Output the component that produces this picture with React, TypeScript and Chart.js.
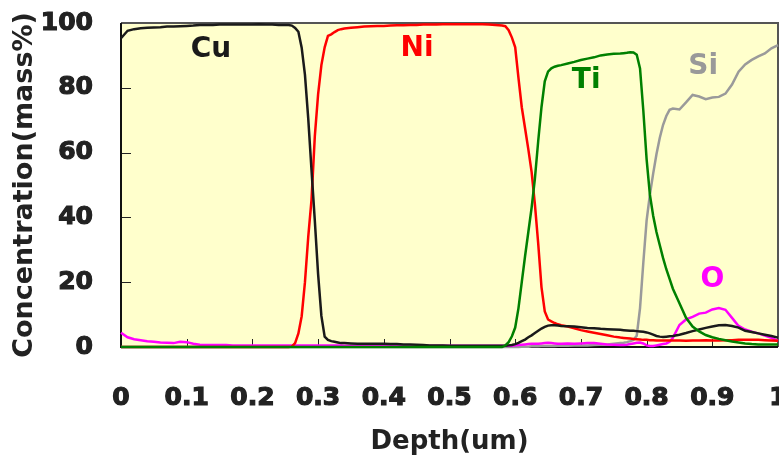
import React, { useEffect, useRef } from 'react';
import { Chart, registerables } from 'chart.js';

Chart.register(...registerables);

// Depth (um) sampling grid
const depth = [
  0, 0.01, 0.02, 0.03, 0.04, 0.05, 0.06, 0.07, 0.08, 0.09, 0.1, 0.11, 0.12, 0.13, 0.14, 0.15, 0.16, 0.17, 0.18, 0.19, 0.2, 0.21, 0.22, 0.23, 0.24, 0.25,
  0.255, 0.26, 0.265, 0.27, 0.275, 0.28, 0.285, 0.29, 0.295, 0.3, 0.305, 0.31, 0.315, 0.32, 0.325, 0.33, 0.335,
  0.34, 0.35, 0.36, 0.37, 0.38, 0.39, 0.4, 0.41, 0.42, 0.43, 0.44, 0.45, 0.46, 0.47, 0.48, 0.49, 0.5, 0.51, 0.52, 0.53, 0.54, 0.55, 0.56, 0.57, 0.58,
  0.585, 0.59, 0.595, 0.6, 0.605, 0.61, 0.615, 0.62, 0.625, 0.63, 0.635, 0.64, 0.645, 0.65, 0.655, 0.66, 0.665,
  0.67, 0.68, 0.69, 0.7, 0.71, 0.72, 0.73, 0.74, 0.75, 0.76,
  0.765, 0.77, 0.775, 0.78, 0.785, 0.79, 0.795, 0.8, 0.805, 0.81, 0.815, 0.82, 0.825, 0.83, 0.835,
  0.84, 0.85, 0.86, 0.87, 0.88, 0.89, 0.9, 0.91, 0.92, 0.93, 0.94, 0.95, 0.96, 0.97, 0.98, 0.99, 1.0,
];

const cu = [
  95.3, 97.6, 98.1, 98.4, 98.5, 98.6, 98.7, 98.9, 98.9, 99.0, 99.1, 99.2, 99.4, 99.4, 99.4, 99.5, 99.5, 99.5, 99.5, 99.5, 99.5, 99.6, 99.5, 99.5, 99.4, 99.4,
  99.4, 99.2, 98.5, 97.3, 92.4, 84, 70.5, 54.5, 39, 22.5, 9.6, 3.2, 2.2, 1.8, 1.6, 1.4, 1.2,
  1.2, 1.1, 1.0, 1.0, 1.0, 1.0, 1.0, 0.9, 0.9, 0.8, 0.8, 0.7, 0.6, 0.5, 0.5, 0.5, 0.4, 0.4, 0.4, 0.4, 0.4, 0.4, 0.4, 0.4, 0.4,
  0.4, 0.5, 0.6, 0.9, 1.3, 1.8, 2.3, 3.0, 3.6, 4.3, 5.0, 5.7, 6.2, 6.6, 6.7, 6.7, 6.6,
  6.5, 6.4, 6.3, 6.1, 5.9, 5.8, 5.6, 5.5, 5.4, 5.3,
  5.2, 5.1, 5.0, 5.0, 4.9, 4.8, 4.7, 4.5, 4.2, 3.8, 3.4, 3.2, 3.1, 3.2, 3.3,
  3.4, 3.8, 4.3, 4.9, 5.4, 5.9, 6.3, 6.7, 6.8, 6.5, 6.0, 5.0, 4.6, 4.2, 3.8, 3.4, 2.9,
];

const ni = [
  0, 0, 0, 0, 0, 0, 0, 0, 0, 0, 0, 0, 0, 0, 0, 0, 0, 0, 0, 0, 0, 0, 0, 0, 0, 0,
  0, 0.1, 1.2, 4.2, 9.5, 20, 34, 45.5, 65, 78, 87, 92.5, 96, 96.5, 97.2, 97.8, 98.1,
  98.3, 98.5, 98.7, 98.9, 99.0, 99.1, 99.1, 99.2, 99.3, 99.3, 99.4, 99.4, 99.5, 99.5, 99.5, 99.6, 99.6, 99.6, 99.6, 99.6, 99.6, 99.6, 99.5, 99.4, 99.2,
  99.0, 97.8, 95.5, 92.5, 83, 74, 67.5, 61, 54, 44, 32, 18.5, 11, 8.5, 7.9, 7.4, 7.0,
  6.7, 6.3, 5.8, 5.2, 4.8, 4.4, 4.0, 3.6, 3.2, 2.9,
  2.8, 2.7, 2.6, 2.5, 2.4, 2.3, 2.2, 2.2, 2.1, 2.1, 2.0, 2.0, 2.0, 2.0, 2.0,
  2.0, 2.0, 1.9, 2.0, 2.0, 2.1, 2.0, 2.0, 2.1, 2.1, 2.2, 2.2, 2.2, 2.2, 2.1, 2.0, 1.9,
];

const ti = [
  0, 0, 0, 0, 0, 0, 0, 0, 0, 0, 0, 0, 0, 0, 0, 0, 0, 0, 0, 0, 0, 0, 0, 0, 0, 0,
  0, 0, 0, 0, 0, 0, 0, 0, 0, 0, 0, 0, 0, 0, 0, 0, 0,
  0, 0, 0, 0, 0, 0, 0, 0, 0, 0, 0, 0, 0, 0, 0, 0, 0, 0, 0, 0, 0, 0, 0, 0, 0,
  0.5, 1.5, 3.3, 6.0, 12, 20, 28, 35.5, 43, 52, 63.5, 74, 82, 85, 86, 86.5, 86.8,
  87.0, 87.5, 88.0, 88.6, 89.0, 89.4, 90.0, 90.3, 90.5, 90.6,
  90.7, 90.8, 91.0, 90.9, 90.2, 86, 73, 58, 47, 40.5, 35.5, 31.5, 27.5, 24, 21,
  18, 13.5, 9, 6.3, 4.8, 3.7, 3.0, 2.5, 2.1, 1.7, 1.4, 1.1, 0.9, 0.8, 0.8, 0.8, 0.8,
];

const si = [
  0, 0, 0, 0, 0, 0, 0, 0, 0, 0, 0, 0, 0, 0, 0, 0, 0, 0, 0, 0, 0, 0, 0, 0, 0, 0,
  0, 0, 0, 0, 0, 0, 0, 0, 0, 0, 0, 0, 0, 0, 0, 0, 0,
  0, 0, 0, 0, 0, 0, 0, 0, 0, 0, 0, 0, 0, 0, 0, 0, 0, 0, 0, 0, 0, 0, 0, 0, 0,
  0, 0, 0, 0, 0, 0.1, 0.1, 0.1, 0.2, 0.2, 0.2, 0.3, 0.3, 0.3, 0.3, 0.3, 0.4,
  0.4, 0.4, 0.5, 0.5, 0.5, 0.6, 0.7, 0.8, 1.0, 1.2,
  1.3, 1.5, 1.8, 2.2, 3.5, 12, 26, 39, 47, 53.5, 59.5, 64.5, 68.5, 71.3, 73.2,
  73.6, 73.3, 75.5, 77.8, 77.3, 76.5, 77.0, 77.2, 78.2, 81, 85, 87.2, 88.6, 89.7, 90.6, 92.2, 93.2,
];

const oxy = [
  4.4, 3.0, 2.4, 2.1, 1.8, 1.6, 1.4, 1.3, 1.2, 1.6, 1.5, 1.0, 0.7, 0.6, 0.6, 0.6, 0.6, 0.5, 0.5, 0.5, 0.5, 0.5, 0.5, 0.5, 0.5, 0.5,
  0.5, 0.5, 0.5, 0.5, 0.5, 0.5, 0.5, 0.5, 0.5, 0.5, 0.5, 0.5, 0.5, 0.5, 0.5, 0.5, 0.5,
  0.4, 0.4, 0.4, 0.4, 0.4, 0.4, 0.4, 0.4, 0.4, 0.4, 0.4, 0.4, 0.4, 0.4, 0.4, 0.4, 0.4, 0.4, 0.4, 0.4, 0.4, 0.4, 0.4, 0.4, 0.4,
  0.4, 0.4, 0.4, 0.5, 0.6, 0.7, 0.8, 0.9, 1.0, 1.0, 1.0, 1.1, 1.2, 1.3, 1.2, 1.1, 1.0,
  1.0, 1.1, 1.0, 1.1, 1.2, 1.2, 1.0, 0.8, 0.7, 0.6,
  0.6, 0.7, 0.9, 1.1, 1.3, 1.4, 1.1, 0.5, 0.3, 0.3, 0.5, 0.7, 0.9, 1.1, 1.6,
  2.8, 6.8, 8.5, 9.3, 10.3, 10.6, 11.6, 12.0, 11.5, 9.0, 6.5, 5.4, 4.7, 4.2, 3.5, 2.8, 1.9,
];

// In-plot element labels (data coordinates)
const elementNames = ['Cu', 'Ni', 'Ti', 'Si', 'O'];
const elementLabelX = [0.137, 0.4505, 0.708, 0.886, 0.9];
const elementLabelY = [91.7, 92.1, 82.1, 86.4, 20.7];
const elementColors = ['#1a1a1a', '#ff0000', '#008000', '#999999', '#ff00ff'];

const xTickStep = 0.1;
const yTickStep = 20;

const FONT = "'DejaVu Sans', sans-serif";

const decorPlugin = {
  id: 'decor',
  beforeDatasetsDraw(chart: any) {
    const { ctx, chartArea: a, scales } = chart;
    ctx.save();
    ctx.fillStyle = '#FFFFCC';
    ctx.fillRect(a.left, a.top, a.right - a.left, a.bottom - a.top);
    // inward tick marks
    ctx.strokeStyle = '#222';
    ctx.lineWidth = 1;
    ctx.beginPath();
    scales.x.ticks.forEach((t: any) => {
      const px = Math.round(scales.x.getPixelForValue(t.value)) + 0.5;
      ctx.moveTo(px, a.bottom);
      ctx.lineTo(px, a.bottom - 8);
    });
    scales.y.ticks.forEach((t: any) => {
      const py = Math.round(scales.y.getPixelForValue(t.value)) + 0.5;
      ctx.moveTo(a.left, py);
      ctx.lineTo(a.left + 10, py);
    });
    ctx.stroke();
    // frame
    ctx.lineWidth = 2;
    ctx.strokeStyle = '#555';
    ctx.beginPath();
    ctx.moveTo(a.left, a.top);
    ctx.lineTo(a.right, a.top);
    ctx.lineTo(a.right, a.bottom);
    ctx.stroke();
    ctx.strokeStyle = '#111';
    ctx.beginPath();
    ctx.moveTo(a.left, a.top);
    ctx.lineTo(a.left, a.bottom);
    ctx.lineTo(a.right, a.bottom);
    ctx.stroke();
    ctx.restore();
  },
  afterDatasetsDraw(chart: any) {
    const { ctx, scales } = chart;
    ctx.save();
    ctx.font = `bold 28px ${FONT}`;
    ctx.textAlign = 'center';
    ctx.textBaseline = 'middle';
    elementNames.forEach((n, i) => {
      const x = scales.x.getPixelForValue(elementLabelX[i]);
      const y = scales.y.getPixelForValue(elementLabelY[i]);
      ctx.fillStyle = elementColors[i];
      ctx.fillText(n, x, y);
    });
    ctx.restore();
  },
};

export default function App() {
  const ref = useRef<HTMLCanvasElement>(null);
  useEffect(() => {
    document.body.style.margin = '0';
    const series = [
      { label: 'Ti', data: ti, color: '#008000' },
      { label: 'Cu', data: cu, color: '#1a1a1a' },
      { label: 'Ni', data: ni, color: '#ff0000' },
      { label: 'O', data: oxy, color: '#ff00ff' },
      { label: 'Si', data: si, color: '#9a9a9a' },
    ];
    const chart = new Chart(ref.current!, {
      type: 'line',
      data: {
        datasets: series.map((s) => ({
          label: s.label,
          data: depth.map((d, i) => ({ x: d, y: s.data[i] })),
          borderColor: s.color,
          backgroundColor: s.color,
          borderWidth: 2.5,
          pointRadius: 0,
          tension: 0,
          fill: false,
          clip: 4,
        })),
      },
      options: {
        responsive: false,
        animation: false,
        layout: { padding: { top: 23, right: 1, left: 0, bottom: 0 } },
        plugins: { legend: { display: false }, tooltip: { enabled: false } },
        scales: {
          x: {
            type: 'linear',
            min: 0,
            max: 1,
            grid: { display: false, drawTicks: false },
            border: { display: false },
            ticks: {
              stepSize: xTickStep,
              padding: 36,
              color: '#222',
              textStrokeColor: '#222',
              textStrokeWidth: 1.2,
              autoSkip: false,
              maxRotation: 0,
              font: { family: FONT, weight: 'bold', size: 25 },
              callback: (v: any) => String(Math.round(Number(v) * 10) / 10),
            },
            title: {
              display: true,
              text: 'Depth(um)',
              color: '#222',
              padding: 0,
              font: { family: FONT, weight: 'bold', size: 26 },
            },
            afterFit: (s: any) => {
              s.height = 111;
              s.paddingLeft = 0;
              s.paddingRight = 0;
            },
          },
          y: {
            min: 0,
            max: 100,
            grid: { display: false, drawTicks: false },
            border: { display: false },
            ticks: {
              stepSize: yTickStep,
              padding: 28,
              color: '#222',
              textStrokeColor: '#222',
              textStrokeWidth: 1.2,
              font: { family: FONT, weight: 'bold', size: 25 },
            },
            title: {
              display: true,
              text: 'Concentration(mass%)',
              color: '#222',
              padding: { top: 9, bottom: 0 },
              font: { family: FONT, weight: 'bold', size: 27 },
            },
            afterFit: (s: any) => {
              s.width = 121;
              s.paddingTop = 0;
              s.paddingBottom = 0;
            },
          },
        },
      },
      plugins: [decorPlugin],
    } as any);
    return () => chart.destroy();
  }, []);
  return (
    <div style={{ width: 779, height: 458 }}>
      <canvas ref={ref} width={779} height={458} style={{ display: 'block' }} />
    </div>
  );
}
